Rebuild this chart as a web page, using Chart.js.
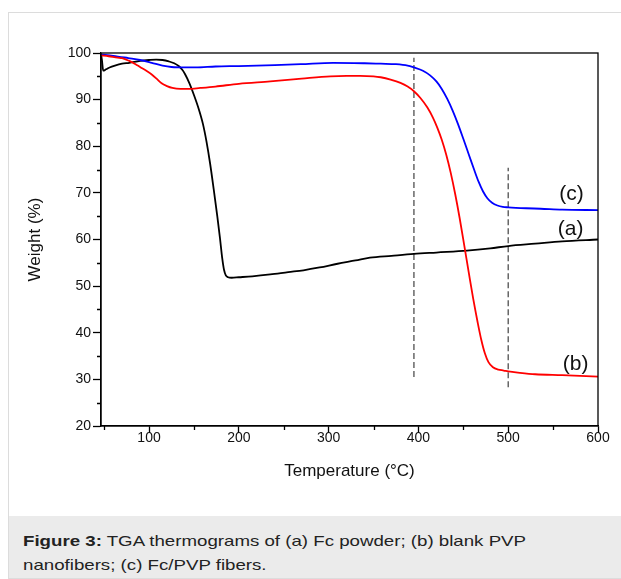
<!DOCTYPE html>
<html><head><meta charset="utf-8">
<script src="https://cdn.jsdelivr.net/npm/chart.js@4/dist/chart.umd.min.js"></script>
<style>
html,body{margin:0;padding:0;background:#fff;width:621px;height:579px;overflow:hidden;}
#frame{position:absolute;left:8px;top:12px;width:640px;height:567px;border:1px solid #dcdcdc;box-sizing:border-box;background:#fff;}
#cap{position:absolute;left:9px;top:516px;width:640px;height:62px;background:#ebebeb;}
#capText{position:absolute;left:14px;top:13px;font-family:"Liberation Sans",Arial,sans-serif;font-size:15px;line-height:24px;color:#222;transform:scaleX(1.245);transform-origin:0 0;white-space:nowrap;}
#wrap{position:absolute;left:0;top:0;width:621px;height:505px;}
</style>
</head>
<body>
<div id="frame"></div>
<div id="cap"><div id="capText"><b>Figure 3:</b> TGA thermograms of (a) Fc powder; (b) blank PVP<br>nanofibers; (c) Fc/PVP fibers.</div></div>
<div id="wrap"><canvas id="c" width="621" height="505"></canvas></div>
<script>
// (a) Fc powder - black
const tempA = [46.5, 47.5, 49, 52, 56, 62, 70, 78, 90, 100, 108, 115, 122, 128, 133, 137, 140, 145, 150, 155, 160, 164, 168, 172, 176, 179, 181.5, 183.5, 185.5, 188, 192, 200, 215, 235, 255, 272, 290, 310, 330, 346, 370, 395, 420, 454, 480, 500, 530, 560, 600];
const weightA = [99.7, 98.5, 96.2, 96.5, 96.9, 97.3, 97.7, 97.9, 98.3, 98.5, 98.6, 98.5, 98.2, 97.8, 97.2, 96.4, 95.5, 93.5, 91.0, 88.2, 84.8, 81.0, 76.3, 70.8, 65.0, 60.3, 56.0, 53.5, 52.3, 51.9, 51.8, 51.9, 52.1, 52.5, 53.0, 53.4, 54.0, 54.8, 55.5, 56.1, 56.5, 56.9, 57.2, 57.6, 58.1, 58.6, 59.1, 59.6, 60.0];
// (b) blank PVP nanofibers - red
const tempB = [46.5, 55, 65, 70, 78, 85, 90, 97, 103, 109, 114, 120, 126, 135, 144, 157, 174, 200, 235, 270, 302, 320, 335, 350, 358, 369, 380, 388, 395, 402, 410, 416, 421, 426, 431, 436, 441, 446, 451, 456, 461, 466, 470, 474, 478, 483, 489, 495, 500, 513, 530, 560, 600];
const weightB = [99.5, 99.3, 99.0, 98.9, 98.3, 97.6, 97.0, 96.2, 95.4, 94.4, 93.5, 92.9, 92.5, 92.3, 92.3, 92.5, 92.8, 93.4, 93.9, 94.5, 95.0, 95.1, 95.1, 95.0, 94.8, 94.3, 93.6, 92.8, 91.8, 90.4, 88.3, 86.2, 84.0, 81.4, 78.2, 74.3, 69.7, 64.5, 58.8, 53.0, 47.3, 42.2, 38.5, 35.6, 33.7, 32.6, 32.1, 31.9, 31.7, 31.4, 31.1, 30.9, 30.6];
// (c) Fc/PVP fibers - blue
const tempC = [46.5, 60, 77, 90, 103, 115, 125, 140, 152, 174, 200, 240, 269, 305, 340, 358, 375, 388, 395, 405, 413, 420, 426, 432, 438, 444, 450, 456, 462, 467, 472, 477, 482, 488, 494, 500, 520, 536, 560, 600];
const weightC = [99.7, 99.4, 98.9, 98.5, 97.9, 97.3, 97.0, 96.9, 96.9, 97.1, 97.2, 97.4, 97.6, 97.9, 97.8, 97.7, 97.6, 97.3, 96.9, 96.2, 95.2, 93.9, 92.3, 90.2, 87.7, 84.8, 81.6, 78.3, 75.0, 72.4, 70.3, 68.8, 67.9, 67.3, 67.0, 66.9, 66.7, 66.6, 66.4, 66.3];
// dashed reference lines
const dashX = [395, 500];
const dashLow = [30.5, 28.3];
const dashHigh = [99.0, 75.4];
// ticks
const xTicks = [100, 200, 300, 400, 500, 600];
const xMinorTicks = [50, 150, 250, 350, 450, 550];
const yMinorTicks = [25, 35, 45, 55, 65, 75, 85, 95];
// curve labels
const labelText = ['(a)', '(b)', '(c)'];
const labelX = [569.5, 575, 570.5];
const labelY = [62.3, 33.3, 69.7];

const pts = (xs, ys) => xs.map((x, i) => ({x: x, y: ys[i]}));
const FONT = 'Liberation Sans';

const curve = (xs, ys, color) => ({
  data: pts(xs, ys), borderColor: color, borderWidth: 1.8, pointRadius: 0,
  cubicInterpolationMode: 'monotone', fill: false
});
const dash = (i) => ({
  data: [{x: dashX[i], y: dashLow[i]}, {x: dashX[i], y: dashHigh[i]}],
  borderColor: '#505050', borderWidth: 1.3, borderDash: [6, 3], pointRadius: 0, tension: 0, fill: false
});

const framePlugin = {
  id: 'frameAndExtras',
  afterDatasetsDraw(chart) {
    const ctx = chart.ctx, xs = chart.scales.x, ys = chart.scales.y;
    ctx.save();
    ctx.fillStyle = '#111';
    ctx.font = '21px "' + FONT + '"';
    ctx.textAlign = 'center';
    ctx.textBaseline = 'middle';
    labelText.forEach((t, i) => ctx.fillText(t, xs.getPixelForValue(labelX[i]), ys.getPixelForValue(labelY[i])));
    ctx.restore();
  },
  afterDraw(chart) {
    const ctx = chart.ctx, a = chart.chartArea, xs = chart.scales.x, ys = chart.scales.y;
    ctx.save();
    ctx.strokeStyle = '#000';
    ctx.lineWidth = 1.3;
    ctx.strokeRect(a.left, a.top, a.right - a.left, a.bottom - a.top);
    ctx.beginPath();
    xMinorTicks.forEach(v => { const p = Math.round(xs.getPixelForValue(v)) + 0.5; ctx.moveTo(p, a.bottom); ctx.lineTo(p, a.bottom + 4); });
    yMinorTicks.forEach(v => { const p = Math.round(ys.getPixelForValue(v)) + 0.5; ctx.moveTo(a.left, p); ctx.lineTo(a.left - 4, p); });
    ctx.stroke();
    ctx.restore();
  }
};

new Chart(document.getElementById('c').getContext('2d'), {
  type: 'line',
  data: { datasets: [
    curve(tempB, weightB, '#ff0000'),
    curve(tempC, weightC, '#0000ff'),
    curve(tempA, weightA, '#000000'),
    dash(0), dash(1)
  ]},
  options: {
    responsive: false, animation: false,
    layout: { padding: { top: 53, right: 23, left: 0, bottom: 0 } },
    plugins: { legend: { display: false }, tooltip: { enabled: false } },
    scales: {
      x: {
        type: 'linear', min: 46.5, max: 600,
        afterBuildTicks: s => { s.ticks = xTicks.map(v => ({value: v})); },
        afterFit: s => { s.height = 79; },
        ticks: { autoSkip: false, maxRotation: 0, minRotation: 0, padding: -3, color: '#111', font: { family: FONT, size: 14 }, callback: v => String(v) },
        grid: { drawOnChartArea: false, drawTicks: true, tickLength: 7, tickColor: '#000', tickWidth: 1.3 },
        border: { display: true, color: '#000', width: 1.3 },
        title: { display: true, text: 'Temperature (°C)', color: '#111', font: { family: FONT, size: 17 }, padding: { top: 0, bottom: 23 } }
      },
      y: {
        min: 20, max: 100,
        afterFit: s => { s.width = 101; },
        ticks: { stepSize: 10, padding: 2, color: '#111', font: { family: FONT, size: 14 } },
        grid: { drawOnChartArea: false, drawTicks: true, tickLength: 8, tickColor: '#000', tickWidth: 1.3 },
        border: { display: true, color: '#000', width: 1.3 },
        title: { display: true, text: 'Weight (%)', color: '#111', font: { family: FONT, size: 17 }, padding: { top: 25, bottom: 0 } }
      }
    }
  },
  plugins: [framePlugin]
});
</script>
</body></html>
